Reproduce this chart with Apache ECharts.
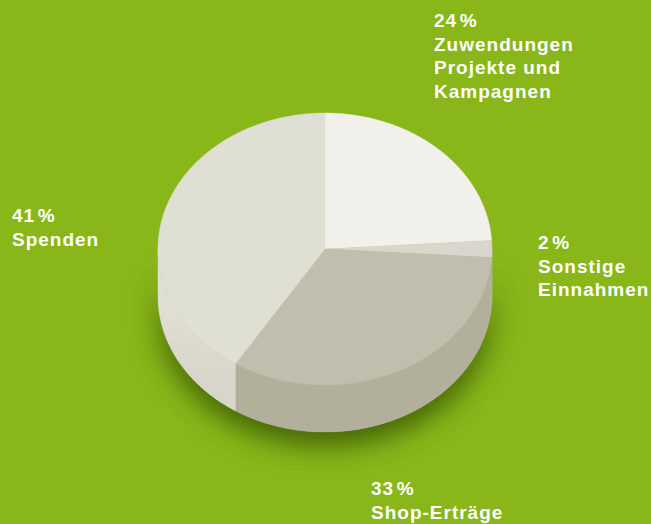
<!DOCTYPE html>
<html>
<head>
<meta charset="utf-8">
<style>
  html, body { margin: 0; padding: 0; background: #89b619; }
  #chart { width: 651px; height: 524px; }
  /* zrender has no letter spacing option, the svg renderer lets css do it */
  #chart text { letter-spacing: 1px; }
</style>
<script src="https://cdn.jsdelivr.net/npm/echarts@6/dist/echarts.min.js"></script>
</head>
<body>
<div id="chart"></div>
<script>
const percents = [24, 2, 33, 41]
const names = ['Zuwendungen\nProjekte und\nKampagnen', 'Sonstige\nEinnahmen', 'Shop-Erträge', 'Spenden']

const topColors = ['#f1f0eb', '#d8d6cd', '#c2bead', '#e0dfd4']
const sideColors = ['#d0cec2', '#c4c1b1', '#b2af9a', '#d8d6cb']
const labelSpots = [[434, 9], [538, 231], [371, 477], [12, 204]]

const cx = 325
const cy = 249
const rx = 167
const ry = 136
const depth = 47

const rad = d => d * Math.PI / 180
const edge = (deg, drop) => [cx + rx * Math.sin(rad(deg)), cy + drop - ry * Math.cos(rad(deg))]

function arc (from, to, drop) {
  let pts = []
  let n = Math.max(2, Math.ceil((to - from) * 2))
  for (let i = 0; i <= n; i++) {
    pts.push(edge(from + (to - from) * i / n, drop))
  }
  return pts
}

function sliceAngles (idx) {
  let total = percents.reduce((a, b) => a + b, 0)
  let before = percents.slice(0, idx).reduce((a, b) => a + b, 0)
  return [before / total * 360, (before + percents[idx]) / total * 360]
}

// the rim fades into the top towards the far left
function sideFill (idx, to) {
  if (to < 270) return sideColors[idx]
  return new echarts.graphic.LinearGradient(0, 0, 0, 1, [
    { offset: 0, color: topColors[idx] },
    { offset: 0.35, color: topColors[idx] },
    { offset: 0.8, color: sideColors[idx] },
    { offset: 1, color: sideColors[idx] }
  ])
}

function renderSlice (params, api) {
  let idx = params.dataIndex
  let [from, to] = sliceAngles(idx)
  let children = []

  // only the front half of the rim can be seen
  let a = Math.max(from, 90)
  let b = Math.min(to, 270)
  if (b > a) {
    let fill = sideFill(idx, to)
    children.push({
      type: 'polygon',
      shape: { points: arc(a, b, 0).concat(arc(a, b, depth).reverse()) },
      style: { fill: fill, stroke: fill, lineWidth: 0.4 }
    })
  }
  children.push({
    type: 'polygon',
    shape: { points: [[cx, cy]].concat(arc(from, to, 0)) },
    style: { fill: topColors[idx], stroke: topColors[idx], lineWidth: 0.4 }
  })
  children.push({
    type: 'text',
    style: {
      text: percents[idx] + '\u200a%\n' + names[idx],
      x: labelSpots[idx][0],
      y: labelSpots[idx][1],
      fill: '#fff',
      fontFamily: '"Liberation Sans", Arial, sans-serif',
      fontWeight: 'bold',
      fontSize: 19,
      lineHeight: 23.5,
      align: 'left',
      verticalAlign: 'top'
    }
  })
  return { type: 'group', children }
}

function renderShadow () {
  return {
    type: 'polygon',
    shape: { points: arc(90, 270, 0).concat(arc(90, 270, depth).reverse()) },
    style: {
      fill: '#b2af9a',
      shadowBlur: 28,
      shadowOffsetY: 14,
      shadowColor: 'rgba(45, 80, 0, 0.8)'
    }
  }
}

const chart = echarts.init(document.getElementById('chart'), null, { renderer: 'svg' })
chart.setOption({
  backgroundColor: '#89b619',
  animation: false,
  series: [
    { type: 'custom', coordinateSystem: 'none', silent: true, data: [0], renderItem: renderShadow },
    { type: 'custom', coordinateSystem: 'none', silent: true, data: percents, renderItem: renderSlice }
  ]
})
</script>
</body>
</html>
